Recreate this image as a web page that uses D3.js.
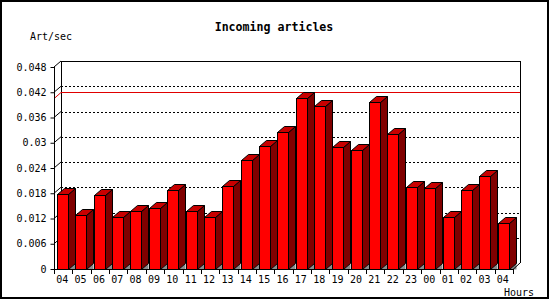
<!DOCTYPE html>
<html>
<head>
<meta charset="utf-8">
<script src="https://cdn.jsdelivr.net/npm/d3@7"></script>
<style>
    body { margin: 0; background: #fff; }
    text { font-family: "DejaVu Sans Mono", monospace; font-size: 10px; }
</style>
</head>
<body>
<div id="chart"></div>
<script>
const hours = ['04', '05', '06', '07', '08', '09', '10', '11', '12', '13', '14', '15', '16',
    '17', '18', '19', '20', '21', '22', '23', '00', '01', '02', '03', '04'];
const artPerSec = [0.0178, 0.0128, 0.0176, 0.0124, 0.0138, 0.0145, 0.0188, 0.0138, 0.0124, 0.0197,
    0.0259, 0.0292, 0.0326, 0.0406, 0.0387, 0.0290, 0.0283, 0.0397, 0.0321, 0.0195,
    0.0193, 0.0124, 0.0188, 0.0221, 0.0109];
const yTicks = [0, 0.006, 0.012, 0.018, 0.024, 0.03, 0.036, 0.042, 0.048];
const yTickLabels = ['0', '0.006', '0.012', '0.018', '0.024', '0.03', '0.036', '0.042', '0.048'];

const width = 550, height = 300;
const dx = 7, dy = -6; // depth offset of the back plane

const svg = d3.select('#chart').append('svg')
    .attr('width', width)
    .attr('height', height);

// outer frame
svg.append('rect')
    .attr('x', 1).attr('y', 1)
    .attr('width', 547).attr('height', 297)
    .attr('fill', 'white')
    .attr('stroke', 'black')
    .attr('stroke-width', 2);

const x = d3.scaleBand()
    .domain(d3.range(hours.length))
    .range([54, 513]);

const y = d3.scaleLinear()
    .domain([0, 0.048])
    .range([269, 67]);

const plotLeft = 54, plotRight = 513, plotBottom = y(0), plotTop = y(0.048);

// back plane
const back = svg.append('g').attr('shape-rendering', 'crispEdges');
back.append('path')
    .attr('d', `M${plotLeft + dx + 0.5},${plotBottom + dy} V${plotTop + dy + 0.5} H${plotRight + dx + 0.5} V${plotBottom + dy}`)
    .attr('fill', 'none')
    .attr('stroke', 'black');

// dotted grid lines on the back plane
svg.append('g').selectAll('line')
    .data(yTicks.slice(1, -1))
    .enter()
    .append('line')
    .attr('x1', plotLeft + dx)
    .attr('x2', plotRight + dx)
    .attr('y1', d => Math.round(y(d) + dy) + 0.5)
    .attr('y2', d => Math.round(y(d) + dy) + 0.5)
    .attr('stroke', 'black')
    .attr('stroke-dasharray', '2,2');

// diagonal depth ticks on the left side
svg.append('g').selectAll('line')
    .data(yTicks.slice(1, -1))
    .enter()
    .append('line')
    .attr('x1', plotLeft)
    .attr('y1', d => y(d))
    .attr('x2', plotLeft + dx)
    .attr('y2', d => y(d) + dy)
    .attr('stroke', 'black');

// red line at the maximum value
const maxVal = d3.max(artPerSec);
svg.append('path')
    .attr('d', `M${plotLeft},${y(maxVal) + 0.5} L${plotLeft + dx},${Math.round(y(maxVal) + dy) + 0.5} H${plotRight + dx}`)
    .attr('fill', 'none')
    .attr('stroke', '#e00000');

// bars
const bw = 11;
const bars = svg.append('g').attr('stroke', 'black').attr('stroke-linejoin', 'miter');

artPerSec.forEach((v, i) => {
    const x0 = Math.round(x(i) + 3) + 0.5;
    const x1 = x0 + bw;
    const yt = Math.round(y(v)) + 0.5;
    const yb = plotBottom + 0.5;

    // floor shade
    bars.append('path')
        .attr('d', `M${x1},${yb} L${x1 + dx},${yb} L${x1 + dx},${yb + dy} Z`)
        .attr('fill', '#8c8c8c')
        .attr('stroke', 'none');
    // side
    bars.append('path')
        .attr('d', `M${x1},${yb} L${x1},${yt} L${x1 + dx},${yt + dy} L${x1 + dx},${yb + dy} Z`)
        .attr('fill', '#800000');
    // top
    bars.append('path')
        .attr('d', `M${x0},${yt} L${x0 + dx},${yt + dy} L${x1 + dx},${yt + dy} L${x1},${yt} Z`)
        .attr('fill', '#c80000');
    // front
    bars.append('rect')
        .attr('x', x0)
        .attr('y', yt)
        .attr('width', bw)
        .attr('height', yb - yt)
        .attr('fill', '#ff0000');
});

// front axes
const axes = svg.append('g').attr('stroke', 'black').attr('fill', 'none');
axes.append('path')
    .attr('d', `M${plotLeft + 0.5},${plotTop} V${plotBottom + 0.5} H${plotRight}`)
    .attr('shape-rendering', 'crispEdges');
axes.append('line')
    .attr('x1', plotLeft).attr('y1', plotTop)
    .attr('x2', plotLeft + dx).attr('y2', plotTop + dy);
axes.append('line')
    .attr('x1', plotRight).attr('y1', plotBottom + 0.5)
    .attr('x2', plotRight + dx).attr('y2', plotBottom + dy);

// y axis ticks and labels
const yAxis = d3.axisLeft(y)
    .tickValues(yTicks)
    .tickSize(4)
    .tickPadding(4)
    .tickFormat((d, i) => yTickLabels[i]);
svg.append('g')
    .attr('transform', `translate(${plotLeft + 0.5},0)`)
    .call(yAxis)
    .call(g => g.select('.domain').remove())
    .call(g => g.selectAll('text').attr('font-family', 'DejaVu Sans Mono').attr('font-size', 10).attr('fill', 'black'));

// x axis ticks at slot edges
const edges = d3.range(hours.length + 1).map(i => i < hours.length ? x(i) : x(i - 1) + x.bandwidth());
svg.append('g').selectAll('line')
    .data(edges)
    .enter()
    .append('line')
    .attr('x1', d => Math.round(d) + 0.5)
    .attr('x2', d => Math.round(d) + 0.5)
    .attr('y1', plotBottom)
    .attr('y2', plotBottom + 5)
    .attr('stroke', 'black');

svg.append('g').selectAll('text')
    .data(hours)
    .enter()
    .append('text')
    .attr('x', (d, i) => x(i) + x.bandwidth() / 2 - 1)
    .attr('y', 283)
    .attr('text-anchor', 'middle')
    .text(d => d);

// titles
svg.append('text')
    .attr('x', 274)
    .attr('y', 31)
    .attr('text-anchor', 'middle')
    .style('font-weight', 'bold')
    .style('font-size', '11.6px')
    .text('Incoming articles');

svg.append('text')
    .attr('x', 30)
    .attr('y', 40)
    .text('Art/sec');

svg.append('text')
    .attr('x', 504)
    .attr('y', 296)
    .text('Hours');
</script>
</body>
</html>
